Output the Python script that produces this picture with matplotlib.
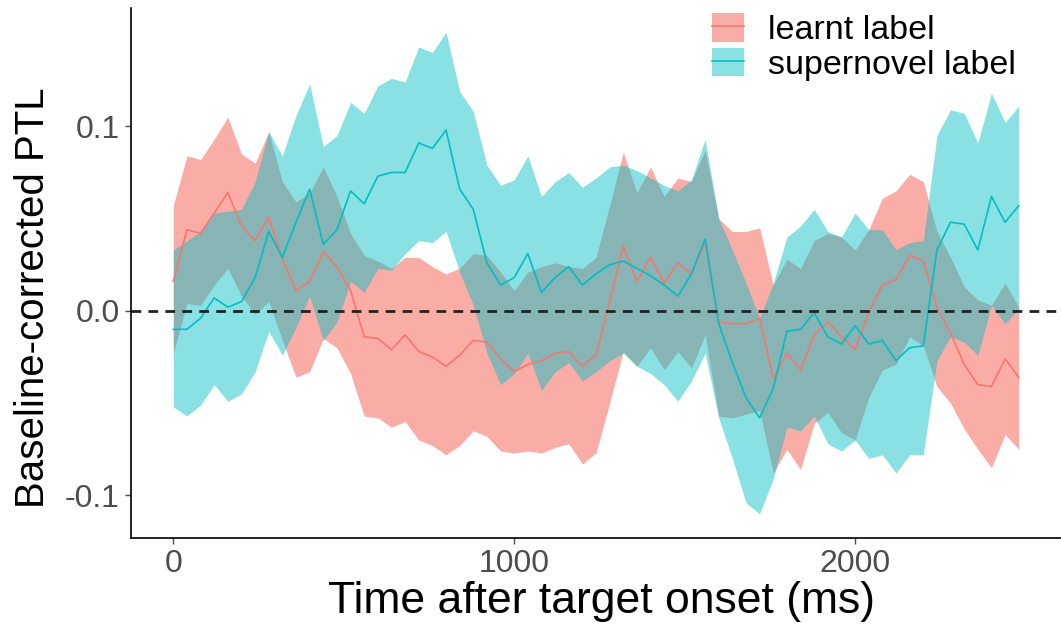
import matplotlib
matplotlib.use("Agg")
import matplotlib.pyplot as plt
from matplotlib.patches import Patch
from matplotlib.lines import Line2D

plt.rcParams['font.family'] = ['Liberation Sans', 'DejaVu Sans']

# time after target onset (ms), one sample every 40 ms
time_ms = [0, 40, 80, 120, 160, 200, 240, 280, 320, 360,
           400, 440, 480, 520, 560, 600, 640, 680, 720, 760,
           800, 840, 880, 920, 960, 1000, 1040, 1080, 1120, 1160,
           1200, 1240, 1280, 1320, 1360, 1400, 1440, 1480, 1520, 1560,
           1600, 1640, 1680, 1720, 1760, 1800, 1840, 1880, 1920, 1960,
           2000, 2040, 2080, 2120, 2160, 2200, 2240, 2280, 2320, 2360,
           2400, 2440, 2480]

learnt_mean = [0.016, 0.044, 0.042, 0.053, 0.064, 0.046, 0.038, 0.051, 0.028, 0.011,
               0.016, 0.032, 0.024, 0.011, -0.014, -0.015, -0.021, -0.013, -0.022, -0.025,
               -0.030, -0.024, -0.016, -0.017, -0.026, -0.033, -0.029, -0.027, -0.023, -0.022,
               -0.030, -0.024, 0.005, 0.035, 0.016, 0.029, 0.015, 0.026, 0.020, 0.037,
               -0.006, -0.007, -0.007, -0.004, -0.037, -0.023, -0.032, -0.013, -0.006, -0.014,
               -0.021, -0.001, 0.014, 0.017, 0.030, 0.027, 0.002, -0.012, -0.029, -0.040,
               -0.041, -0.026, -0.036]
learnt_upper = [0.057, 0.084, 0.082, 0.093, 0.105, 0.085, 0.080, 0.097, 0.070, 0.059,
                0.064, 0.078, 0.062, 0.042, 0.030, 0.027, 0.023, 0.029, 0.029, 0.024,
                0.020, 0.023, 0.031, 0.030, 0.021, 0.011, 0.021, 0.024, 0.026, 0.024,
                0.023, 0.029, 0.057, 0.086, 0.064, 0.078, 0.062, 0.072, 0.070, 0.087,
                0.050, 0.043, 0.043, 0.045, 0.014, 0.028, 0.023, 0.038, 0.042, 0.040,
                0.033, 0.044, 0.061, 0.065, 0.074, 0.070, 0.043, 0.029, 0.013, 0.006,
                0.003, 0.015, 0.002]
learnt_lower = [-0.023, 0.004, 0.003, 0.014, 0.023, 0.008, -0.002, 0.005, -0.016, -0.036,
                -0.033, -0.015, -0.020, -0.034, -0.057, -0.058, -0.063, -0.060, -0.070, -0.073,
                -0.078, -0.073, -0.065, -0.068, -0.076, -0.077, -0.076, -0.077, -0.074, -0.072,
                -0.083, -0.077, -0.050, -0.022, -0.030, -0.020, -0.032, -0.022, -0.031, -0.013,
                -0.057, -0.058, -0.056, -0.054, -0.088, -0.075, -0.086, -0.061, -0.055, -0.066,
                -0.070, -0.047, -0.032, -0.029, -0.014, -0.019, -0.041, -0.050, -0.064, -0.075,
                -0.085, -0.067, -0.075]

supernovel_mean = [-0.010, -0.010, -0.004, 0.007, 0.002, 0.005, 0.018, 0.043, 0.029, 0.048,
                   0.066, 0.036, 0.044, 0.065, 0.058, 0.073, 0.075, 0.075, 0.091, 0.088,
                   0.098, 0.066, 0.055, 0.026, 0.014, 0.018, 0.031, 0.010, 0.018, 0.024,
                   0.014, 0.020, 0.025, 0.027, 0.023, 0.019, 0.014, 0.008, 0.020, 0.039,
                   -0.007, -0.028, -0.047, -0.058, -0.042, -0.011, -0.010, -0.001, -0.014, -0.018,
                   -0.008, -0.018, -0.016, -0.027, -0.020, -0.019, 0.033, 0.048, 0.047, 0.033,
                   0.062, 0.048, 0.057]
supernovel_upper = [0.033, 0.038, 0.043, 0.053, 0.054, 0.055, 0.070, 0.097, 0.084, 0.106,
                    0.123, 0.089, 0.095, 0.113, 0.107, 0.122, 0.126, 0.124, 0.143, 0.140,
                    0.151, 0.119, 0.108, 0.079, 0.068, 0.071, 0.084, 0.062, 0.070, 0.075,
                    0.067, 0.072, 0.078, 0.079, 0.076, 0.072, 0.068, 0.065, 0.071, 0.093,
                    0.050, 0.033, 0.015, -0.004, 0.015, 0.040, 0.046, 0.055, 0.043, 0.040,
                    0.053, 0.044, 0.044, 0.033, 0.037, 0.038, 0.095, 0.109, 0.107, 0.091,
                    0.118, 0.102, 0.111]
supernovel_lower = [-0.052, -0.057, -0.051, -0.040, -0.049, -0.045, -0.033, -0.011, -0.024, -0.009,
                    0.008, -0.016, -0.006, 0.016, 0.010, 0.023, 0.022, 0.031, 0.038, 0.037,
                    0.043, 0.021, 0.003, -0.023, -0.040, -0.034, -0.023, -0.043, -0.033, -0.028,
                    -0.038, -0.033, -0.027, -0.023, -0.030, -0.034, -0.040, -0.049, -0.038, -0.023,
                    -0.058, -0.080, -0.104, -0.110, -0.091, -0.063, -0.065, -0.057, -0.072, -0.076,
                    -0.070, -0.080, -0.078, -0.088, -0.078, -0.078, -0.027, -0.014, -0.017, -0.024,
                    0.003, -0.007, 0.001]

series_names = ["learnt label", "supernovel label"]
col_learnt = "#F8766D"
col_super = "#00BFC4"
alpha_learnt = 0.6
alpha_super = 0.46

fig = plt.figure(figsize=(10.61, 6.32), dpi=100)
ax = fig.add_axes([0.1235, 0.149, 0.8765, 0.838])

# ribbon then line per group, learnt first (so the supernovel ribbon covers the red line)
ax.fill_between(time_ms, learnt_lower, learnt_upper, color=col_learnt, alpha=alpha_learnt, lw=0)
ax.plot(time_ms, learnt_mean, color=col_learnt, lw=1.2)
ax.fill_between(time_ms, supernovel_lower, supernovel_upper, color=col_super, alpha=alpha_super, lw=0)
ax.plot(time_ms, supernovel_mean, color=col_super, lw=1.2)

ax.axhline(0, color="#222222", lw=2.0, ls=(0, (3.5, 2.6)))

ax.set_xlim(-124, 2604)
ax.set_ylim(-0.123, 0.164)
ax.set_xticks([0, 1000, 2000])
ax.set_yticks([-0.1, 0.0, 0.1])
ax.set_yticklabels(["-0.1", "0.0", "0.1"])

for s in ["top", "right"]:
    ax.spines[s].set_visible(False)
for s in ["left", "bottom"]:
    ax.spines[s].set_linewidth(1.2)
    ax.spines[s].set_color("black")
ax.tick_params(axis="both", labelsize=23, colors="#4D4D4D", length=4, width=1.0, pad=4)

ax.set_xlabel("Time after target onset (ms)", fontsize=32, color="black")
ax.set_ylabel("Baseline-corrected PTL", fontsize=29, color="black")
ax.xaxis.set_label_coords(0.506, -0.082)
ax.yaxis.set_label_coords(-0.085, 0.453)

handles = [
    (Patch(facecolor=col_learnt, alpha=alpha_learnt, lw=0), Line2D([], [], color=col_learnt, lw=1.2)),
    (Patch(facecolor=col_super, alpha=alpha_super, lw=0), Line2D([], [], color=col_super, lw=1.2)),
]
fig.legend(handles, series_names, loc="upper left", bbox_to_anchor=(0.671, 0.979),
           frameon=False, fontsize=24.5, handlelength=0.95, handleheight=0.9,
           handletextpad=0.7, labelspacing=0.05, borderpad=0.0, borderaxespad=0.0)

fig.savefig("out.png", dpi=100)
